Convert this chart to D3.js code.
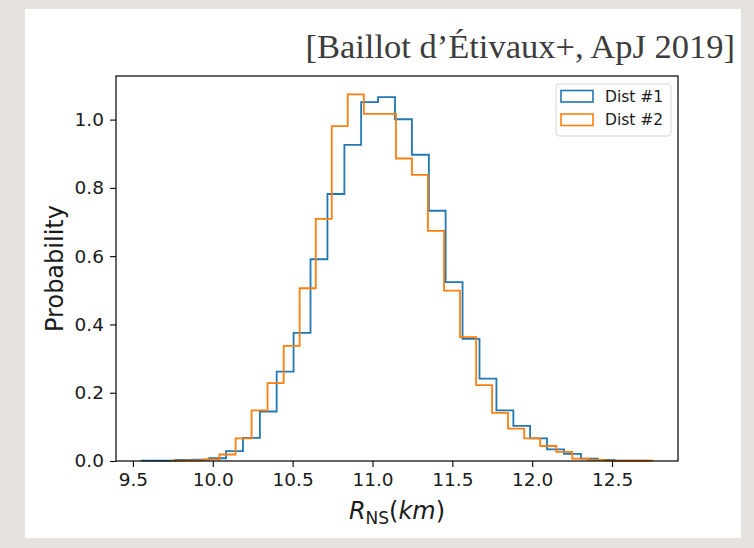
<!DOCTYPE html>
<html lang="en">
<head>
    <meta charset="UTF-8">
    <title>R_NS histogram</title>
    <script src="https://cdn.jsdelivr.net/npm/d3@7/dist/d3.min.js"></script>
    <style>
        html, body { margin: 0; padding: 0; background: #e6e3de; }
        svg { display: block; }
    </style>
</head>
<body>

<script>

    // bin edges (km) and normalised counts
    const dist1Edges = [9.554, 9.660, 9.766, 9.871, 9.977, 10.083, 10.189, 10.295, 10.400, 10.506,
        10.612, 10.718, 10.824, 10.929, 11.035, 11.141, 11.247, 11.353, 11.458, 11.564,
        11.670, 11.776, 11.882, 11.987, 12.093, 12.199, 12.305, 12.411, 12.516, 12.622, 12.728];
    const dist1Values = [0.001, 0.001, 0.003, 0.004, 0.008, 0.029, 0.068, 0.145, 0.262, 0.375,
        0.591, 0.782, 0.926, 1.051, 1.066, 1.001, 0.897, 0.733, 0.524, 0.358,
        0.241, 0.148, 0.103, 0.066, 0.034, 0.021, 0.007, 0.003, 0.001, 0.001];

    const dist2Edges = [9.741, 9.841, 9.942, 10.042, 10.143, 10.243, 10.343, 10.444, 10.544, 10.645,
        10.745, 10.845, 10.946, 11.046, 11.147, 11.247, 11.347, 11.448, 11.548, 11.649,
        11.749, 11.849, 11.950, 12.050, 12.151, 12.251, 12.351, 12.452, 12.552, 12.653, 12.753];
    const dist2Values = [0.001, 0.002, 0.005, 0.019, 0.066, 0.148, 0.228, 0.337, 0.506, 0.709,
        0.981, 1.074, 1.017, 1.017, 0.886, 0.838, 0.674, 0.499, 0.363, 0.222,
        0.141, 0.095, 0.066, 0.044, 0.027, 0.007, 0.003, 0.001, 0.001, 0.001];

    const seriesNames = ["Dist #1", "Dist #2"];
    const seriesColors = ["#1f77b4", "#ff7f0e"];
    const xTicks = [9.5, 10.0, 10.5, 11.0, 11.5, 12.0, 12.5];
    const yTicks = [0.0, 0.2, 0.4, 0.6, 0.8, 1.0];
    const citation = "[Baillot d\u2019\u00C9tivaux+, ApJ 2019]";

    const width = 754, height = 548;
    const margin = {top: 76, right: 76, bottom: 87, left: 116};

    const svg = d3.select("body").append("svg")
        .attr("width", width).attr("height", height);

    // slide background + white card
    svg.append("rect").attr("width", width).attr("height", height).attr("fill", "#e6e3de");
    svg.append("rect").attr("x", 25).attr("y", 9).attr("width", 716).attr("height", 529).attr("fill", "#fff");

    svg.append("text")
        .attr("x", 735).attr("y", 58)
        .attr("text-anchor", "end")
        .attr("font-family", "'Liberation Serif', 'DejaVu Serif', serif")
        .attr("font-size", 34.5)
        .attr("fill", "#3c3c3c")
        .text(citation);

    const series = [
        {name: seriesNames[0], color: seriesColors[0], edges: dist1Edges, values: dist1Values},
        {name: seriesNames[1], color: seriesColors[1], edges: dist2Edges, values: dist2Values}
    ];

    // matplotlib style autoscale: 5% padding on x, sticky 0 on y
    const lo = d3.min(series, s => s.edges[0]);
    const hi = d3.max(series, s => s.edges[s.edges.length - 1]);
    const pad = (hi - lo) * 0.05;
    const x = d3.scaleLinear()
        .domain([lo - pad, hi + pad])
        .range([margin.left, width - margin.right]);
    const y = d3.scaleLinear()
        .domain([0, d3.max(series, s => d3.max(s.values)) * 1.05])
        .range([height - margin.bottom, margin.top]);

    const step = d3.line()
        .x(d => x(d[0]))
        .y(d => y(d[1]))
        .curve(d3.curveStepAfter);

    const histPoints = s => {
        const n = s.values.length;
        const pts = [[s.edges[0], 0]];
        s.values.forEach((v, i) => pts.push([s.edges[i], v]));
        pts.push([s.edges[n], s.values[n - 1]]);
        pts.push([s.edges[n], 0]);
        return pts;
    };

    svg.append("g")
        .selectAll("path")
        .data(series)
        .join("path")
        .attr("fill", "none")
        .attr("stroke", d => d.color)
        .attr("stroke-width", 1.8)
        .attr("stroke-linejoin", "miter")
        .attr("d", d => step(histPoints(d)));

    const fmt = d3.format(".1f");

    const xAxis = g => g
        .attr("transform", `translate(0,${height - margin.bottom})`)
        .call(d3.axisBottom(x).tickValues(xTicks).tickFormat(fmt).tickSize(6).tickPadding(6))
        .call(g => g.select(".domain").remove());

    const yAxis = g => g
        .attr("transform", `translate(${margin.left},0)`)
        .call(d3.axisLeft(y).tickValues(yTicks).tickFormat(fmt).tickSize(6).tickPadding(6))
        .call(g => g.select(".domain").remove());

    svg.append("g").call(xAxis);
    svg.append("g").call(yAxis);

    svg.selectAll(".tick text")
        .attr("font-family", "'DejaVu Sans', sans-serif")
        .attr("font-size", 18.5)
        .attr("fill", "#1a1a1a");
    svg.selectAll(".tick line").attr("stroke", "#000").attr("stroke-width", 1.1);

    // axes frame
    svg.append("rect")
        .attr("x", margin.left).attr("y", margin.top)
        .attr("width", width - margin.left - margin.right)
        .attr("height", height - margin.top - margin.bottom)
        .attr("fill", "none").attr("stroke", "#000").attr("stroke-width", 1.2);

    // axis labels
    const xl = svg.append("text")
        .attr("x", (margin.left + width - margin.right) / 2)
        .attr("y", 519)
        .attr("text-anchor", "middle")
        .attr("font-family", "'DejaVu Sans', sans-serif")
        .attr("font-size", 24)
        .attr("fill", "#1a1a1a");
    xl.append("tspan").attr("font-style", "italic").text("R");
    xl.append("tspan").attr("font-size", 17).attr("dy", 5).text("NS");
    xl.append("tspan").attr("dy", -5).text("(");
    xl.append("tspan").attr("font-style", "italic").text("km");
    xl.append("tspan").text(")");

    svg.append("text")
        .attr("transform", `translate(63,${(margin.top + height - margin.bottom) / 2}) rotate(-90)`)
        .attr("text-anchor", "middle")
        .attr("font-family", "'DejaVu Sans', sans-serif")
        .attr("font-size", 24)
        .attr("fill", "#1a1a1a")
        .text("Probability");

    // legend
    const legend = svg.append("g").attr("transform", "translate(556,84)");
    legend.append("rect")
        .attr("width", 115).attr("height", 52).attr("rx", 3)
        .attr("fill", "#fff").attr("fill-opacity", 0.8)
        .attr("stroke", "#d6d6d6").attr("stroke-width", 1);
    const item = legend.selectAll("g.item")
        .data(series)
        .join("g")
        .attr("class", "item")
        .attr("transform", (d, i) => `translate(0,${i * 23.5})`);
    item.append("rect")
        .attr("x", 5).attr("y", 6.5).attr("width", 32).attr("height", 11.5)
        .attr("fill", "none").attr("stroke", d => d.color).attr("stroke-width", 1.6);
    item.append("text")
        .attr("x", 49).attr("y", 17.5)
        .attr("font-family", "'DejaVu Sans', sans-serif")
        .attr("font-size", 15.5)
        .attr("fill", "#1a1a1a")
        .text(d => d.name);

</script>

</body>
</html>
